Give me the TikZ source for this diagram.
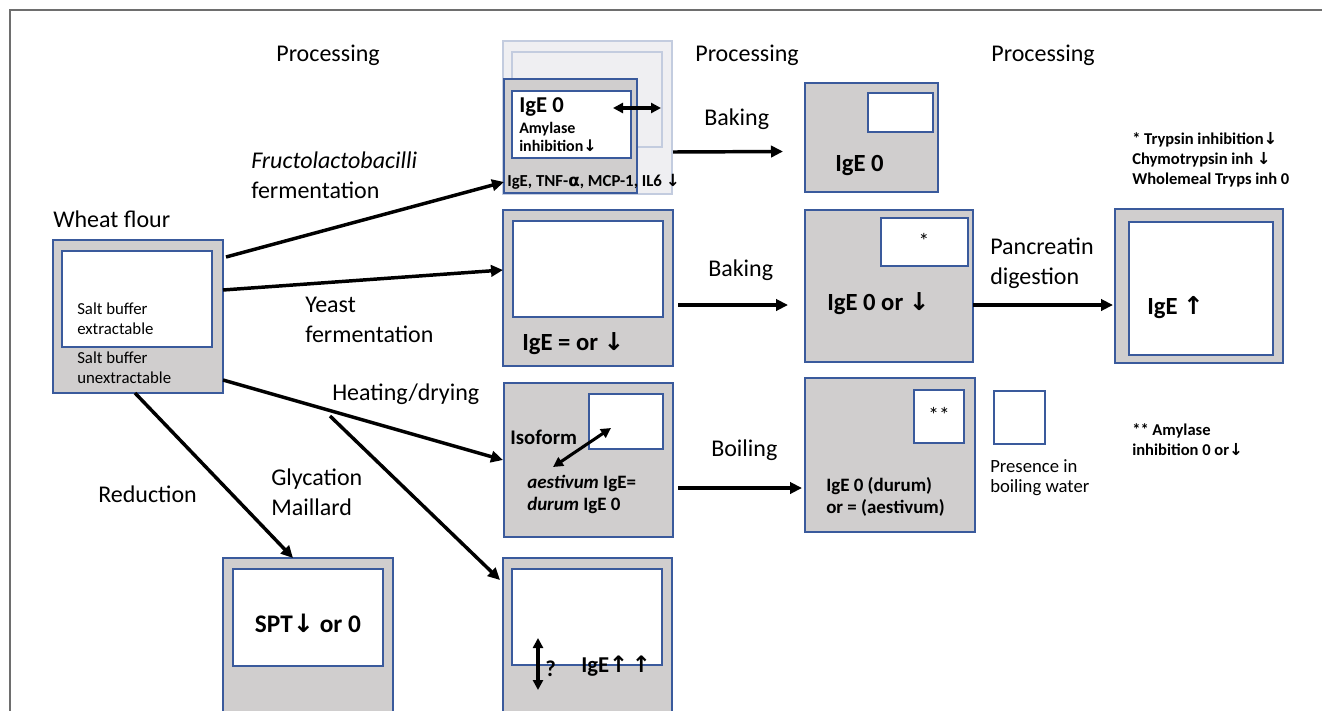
\documentclass[tikz,border=0pt]{standalone}
\usepackage{fontspec}
\setmainfont{Carlito}
\newfontfamily\symf{DejaVu Sans}
\usetikzlibrary{arrows.meta,calc}
\newcommand\dar{{\symf\char"2193}}
\newcommand\uar{{\symf\char"2191}}
\definecolor{bblue}{HTML}{3A5A9C}
\definecolor{bgray}{HTML}{D0CECE}
\definecolor{framecol}{HTML}{6E6E6E}
\definecolor{ghostfill}{HTML}{EFEFF2}
\definecolor{ghostline}{HTML}{C3CCDF}
\tikzset{
  outerbox/.style={draw=bblue, fill=bgray, line width=1.3pt, inner sep=0pt, outer sep=0pt, anchor=north west},
  innerbox/.style={draw=bblue, fill=white, line width=1.3pt, inner sep=0pt, outer sep=0pt, anchor=north west},
  ghost/.style={draw=ghostline, fill=ghostfill, line width=1pt, inner sep=0pt, outer sep=0pt, anchor=north west},
  sz/.style 2 args={minimum width=#1*0.75pt, minimum height=#2*0.75pt},
  arr/.style={-{Triangle[length=9pt,width=8.5pt]}, line width=2.6pt},
  darr/.style={{Triangle[length=7.5pt,width=7.5pt]}-{Triangle[length=7.5pt,width=7.5pt]}, line width=2.3pt},
  lbl/.style={inner sep=0pt, anchor=base west, align=left, font=\fontsize{18}{22}\selectfont},
  lblc/.style={inner sep=0pt, anchor=base, font=\fontsize{18}{22}\selectfont},
  small/.style={inner sep=0pt, anchor=base west, align=left, font=\fontsize{12.6}{14.5}\selectfont},
  bsmall/.style={inner sep=0pt, anchor=base west, align=left, font=\fontsize{12.4}{15}\selectfont\bfseries},
  bmid/.style={inner sep=0pt, anchor=base west, align=left, font=\fontsize{14.2}{16.5}\selectfont\bfseries},
  bbig/.style={inner sep=0pt, anchor=base west, align=left, font=\fontsize{18.5}{22}\selectfont\bfseries},
}
\begin{document}
\begin{tikzpicture}[x=0.75pt,y=-0.75pt]
\useasboundingbox (0,0) rectangle (1322,711);
\clip (0,0) rectangle (1322,711);
\draw[framecol, line width=1.5pt] (10,711) -- (10,10) -- (1322,10);

% headings
\node[lblc] (p1) at (328,61) {Processing};
\node[lblc] (p2) at (747,61) {Processing};
\node[lblc] (p3) at (1043,61) {Processing};

% wheat flour
\node[lbl] (wft) at (53,227) {Wheat flour};
\node[outerbox, sz={170}{153}] (wf) at (53,240) {};
\node[innerbox, sz={150}{96}] (wfi) at (62,251) {};
\node[small] (sbe) at (77,334) {Salt buffer\\extractable};
\node[small] (sbu) at (77,383) {Salt buffer\\unextractable};

% fermentation box (with ghost copy behind)
\node[ghost, sz={169}{153}] (gh1) at (503,41) {};
\node[ghost, sz={150}{95}] (gh2) at (512,52) {};
\node[outerbox, sz={133}{114}] (fb) at (504,79) {};
\node[innerbox, sz={119}{67}] (fbi) at (512,91) {};
\node[inner sep=0pt, anchor=base west, font=\fontsize{17}{20}\selectfont\bfseries] (fige) at (519,112) {IgE 0};
\node[bsmall, font=\fontsize{12}{13.5}\selectfont\bfseries] (famy) at (519,151) {Amylase\\inhibition\dar};
\node[bsmall, font=\fontsize{12.6}{14}\selectfont\bfseries] (ftnf) at (507,186) {IgE, TNF-\symf α\rmfamily, MCP-1, IL6 \dar};
\coordinate (dA) at (613,108);
\coordinate (dB) at (661,108);
\draw[darr] (dA) -- (dB);

% yeast box
\node[outerbox, sz={170}{156}] (yb) at (503,210) {};
\node[innerbox, sz={150}{96}] (ybi) at (513,221) {};
\node[bbig] (yige) at (522,350) {IgE = or \dar};

% heating box
\node[outerbox, sz={169}{154}] (hb) at (504,383) {};
\node[innerbox, sz={74}{55}] (hbi) at (589,394) {};
\node[inner sep=0pt, anchor=base west, font=\fontsize{15.6}{18}\selectfont\bfseries] (iso) at (510,444) {Isoform};
\node[bmid] (aes) at (527,510) {\textit{aestivum} IgE=\\\textit{durum} IgE 0};
\coordinate (iA) at (553,467);
\coordinate (iB) at (611,428);
\draw[darr] (iA) -- (iB);

% glycation box
\node[outerbox, sz={169}{170}] (gb) at (503,558) {};
\node[innerbox, sz={150}{96}] (gbi) at (512,569) {};
\coordinate (vA) at (538,638);
\coordinate (vB) at (538,690);
\draw[darr] (vA) -- (vB);
\node[inner sep=0pt, anchor=base west, font=\fontsize{17}{18}\selectfont\bfseries] (qm) at (545,676) {?};
\node[inner sep=0pt, anchor=base west, font=\fontsize{17}{18}\selectfont\bfseries] (gige) at (581,672) {IgE\uar\,\uar};

% SPT box
\node[outerbox, sz={170}{170}] (sb) at (223,558) {};
\node[innerbox, sz={150}{97}] (sbi) at (233,569) {};
\node[inner sep=0pt, anchor=base, font=\fontsize{19}{20}\selectfont\bfseries] (spt) at (308,632) {SPT\dar{} or 0};

% baking 1
\node[outerbox, sz={133}{109}] (k1) at (805,83) {};
\node[innerbox, sz={65}{39}] (k1i) at (868,93) {};
\node[bbig] (k1t) at (835,171) {IgE 0};

% baking 2
\node[outerbox, sz={168}{152}] (k2) at (805,210) {};
\node[innerbox, sz={87}{48}] (k2i) at (881,218) {};
\node[inner sep=0pt, font=\fontsize{16}{18}\selectfont] (st1) at (924,241) {*};
\node[bbig] (k2t) at (827,310) {IgE 0 or \dar};

% boiling
\node[outerbox, sz={170}{154}] (bo) at (805,378) {};
\node[innerbox, sz={50}{53}] (boi) at (914,390) {};
\node[inner sep=0pt, font=\fontsize{16}{18}\selectfont] (st2) at (939,415) {**};
\node[bmid] (bot) at (826,513) {IgE 0 (durum)\\or = (aestivum)};
\node[innerbox, sz={51}{53}] (pr) at (994,391) {};
\node[inner sep=0pt, anchor=base west, align=left, font=\fontsize{14}{15}\selectfont] (prt) at (990,492) {Presence in\\boiling water};

% pancreatin
\node[outerbox, sz={168}{154}] (pa) at (1115,209) {};
\node[innerbox, sz={144}{133}] (pai) at (1129,222) {};
\node[bbig] (pat) at (1147,314) {IgE \uar};

% footnotes
\node[bsmall] (fn1) at (1132,184) {* Trypsin inhibition\dar\\Chymotrypsin inh \dar\\Wholemeal Tryps inh 0};
\node[bsmall] (fn2) at (1132,455) {** Amylase\\inhibition 0 or\dar};

% process labels
\node[lbl] (l1) at (251,198) {\textit{Fructolactobacilli}\\fermentation};
\node[lbl] (l2) at (305,342) {Yeast\\fermentation};
\node[lbl] (l3) at (332,400) {Heating/drying};
\node[lbl] (l4) at (271,515) {Glycation\\Maillard};
\node[lbl] (l5) at (98,502) {Reduction};
\node[lbl] (l6) at (704,125) {Baking};
\node[lbl] (l7) at (708,276) {Baking};
\node[lbl] (l8) at (711,456) {Boiling};
\node[lbl] (l9) at (990,284) {Pancreatin\\digestion};

% connectors
\draw[arr] ($(wf.north east)+(3,17)$) -- (fb.west |- 0,182);
\draw[arr] ($(wf.north east)+(0,50)$) -- (yb.west |- 0,270);
\draw[arr] ($(wf.north east)+(0,140)$) -- ($(hb.north west)+(-1,77)$);
\draw[arr] ($(wf.south west)+(82,0)$) -- ($(sb.north west)+(70,0)$);
\coordinate (gstart) at (330,416);
\draw[arr] (gstart) -- ($(gb.north west)+(-3,22)$);
\draw[arr] ($(fb.east)+(36,16)$) -- ($(k1.west)+(-22,14)$);
\draw[arr] ($(yb.east |- 0,305)+(5,0)$) -- ($(k2.west |- 0,305)+(-17,0)$);
\draw[arr] ($(hb.east |- 0,488)+(5,0)$) -- ($(bo.west |- 0,488)+(-3,0)$);
\draw[arr] (k2.east |- 0,305) -- ($(pa.west |- 0,305)+(-2,0)$);
\end{tikzpicture}
\end{document}
